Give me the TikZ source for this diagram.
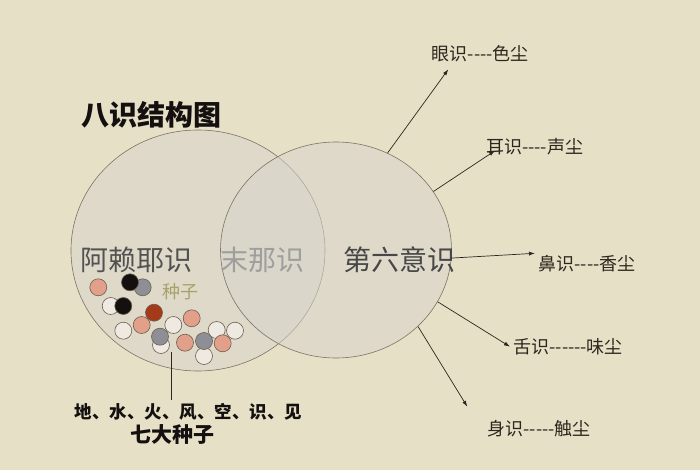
\documentclass[tikz,border=0pt]{standalone}
\usepackage{fontspec}
\setmainfont{Noto Sans CJK SC}
\usetikzlibrary{shapes.geometric,arrows.meta}
\definecolor{paper}{HTML}{E6E0C6}
\definecolor{mist}{HTML}{D8D4CC}
\definecolor{ringline}{HTML}{7E7262}
\definecolor{ink}{HTML}{2C271E}
\definecolor{seedline}{HTML}{6B5E4E}
\definecolor{salmon}{HTML}{E2A08A}
\definecolor{pebble}{HTML}{8E8E96}
\definecolor{coal}{HTML}{141010}
\definecolor{rust}{HTML}{A53A1A}
\definecolor{pearl}{HTML}{EEEAE2}
\begin{document}
\begin{tikzpicture}[x=1pt,y=-1pt,
    ring/.style={ellipse, draw=ringline, line width=0.6pt, fill=mist, fill opacity=0.55, inner sep=0pt},
    sense/.style={anchor=west, inner sep=0pt, text=ink, font=\fontsize{18}{20}\selectfont},
    link/.style={draw=ink, line width=0.7pt, -{Latex[length=6pt,width=4pt]}},
    seed/.style={draw=seedline, line width=0.6pt}]
            \fill[paper] (0,0) rectangle (700,470);
            \useasboundingbox (0,0) rectangle (700,470);
            \node[ring, minimum width=254pt, minimum height=241pt] (alaya) at (198,250.5) {};
            \node[ring, minimum width=231pt, minimum height=216pt] (liu) at (336,250) {};
            \node[font=\fontsize{28}{30}\selectfont\bfseries, text=coal] (title) at (151,115) {八识结构图};
            \node[font=\fontsize{28}{30}\selectfont, text=black!68] (alayatext) at (136,260) {阿赖耶识};
            \node[font=\fontsize{28}{30}\selectfont, text=black!38] (manas) at (262.5,260) {末那识};
            \node[font=\fontsize{28}{30}\selectfont, text=black!72] (liutext) at (399,260) {第六意识};
            \node[font=\fontsize{18}{20}\selectfont, text=olive!45!gray!80] (zhongzi) at (180,291.7) {种子};
            \foreach \x/\y/\c in {98.3/287.3/salmon, 142.7/287.3/pebble, 130/282.3/coal,
                    110.7/306/pearl, 123.3/306/coal, 141.7/325/salmon, 154/312.7/rust,
                    173.3/325/pearl, 191.7/318.3/salmon, 123.3/330.7/pearl, 161/345/pearl,
                    160/336.7/pebble, 204/356/pearl, 185/342.7/salmon, 204/341/pebble,
                    216.7/330/pearl, 235/330.7/pearl, 222.7/343.3/salmon}
                \filldraw[seed, fill=\c] (\x,\y) circle (8.5);
            \coordinate (seedfoot) at (171,352);
            \node[font=\fontsize{17.5}{19}\selectfont\bfseries, text=coal] (dizhong) at (188.3,411.7) {地、水、火、风、空、识、见};
            \node[font=\fontsize{21}{23}\selectfont\bfseries, text=coal] (qida) at (172.5,435) {七大种子};
            \draw[ink, line width=0.7pt] (seedfoot) -- (seedfoot |- dizhong.north);
            \node[sense] (yan) at (431.7,53.3) {眼识-{}-{}-{}-色尘};
            \node[sense] (er) at (486,146.7) {耳识-{}-{}-{}-声尘};
            \node[sense] (bi) at (538.3,263.3) {鼻识-{}-{}-{}-香尘};
            \node[sense] (she) at (513.3,346.7) {舌识-{}-{}-{}-{}-{}-味尘};
            \node[sense] (shen) at (487.3,428.3) {身识-{}-{}-{}-{}-触尘};
            \draw[link] (liu.62) -- ([shift={(16.6,16)}]yan.west);
            \draw[link] (liu.31.4) -- ([shift={(9,4)}]er.west);
            \draw[link] (liu.-4.5) -- ([shift={(-3.3,-10)}]bi.west);
            \draw[link] (liu.-27.9) -- ([shift={(-3.3,0)}]she.west);
            \draw[link] (liu.-43.6) -- ([shift={(-20,-21.6)}]shen.west);
        \end{tikzpicture}
\end{document}
